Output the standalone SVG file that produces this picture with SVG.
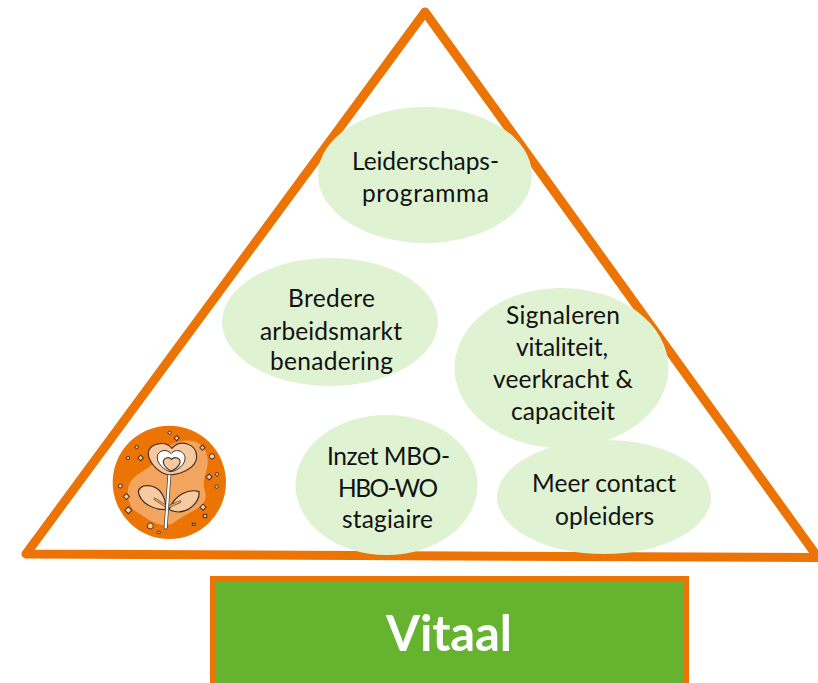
<svg xmlns="http://www.w3.org/2000/svg" width="818" height="683" viewBox="0 0 818 683">
<style>
.tx{font-family:Lato,"Liberation Sans",sans-serif;font-size:24.500px;fill:#111;text-anchor:middle}
.el{fill:#dff3d3}
.d{fill:#f6c9a0;stroke:#4a3020;stroke-width:3.500}
.p{fill:#f8caa0;stroke:#3a2a20;stroke-width:3.500}
</style>
<rect width="818" height="683" fill="#fff"/>
<g id="connectors"></g>
<g id="triangle"><path d="M425 12 L26 554 L818 557.500 Z" fill="#fff" stroke="#ec7405" stroke-width="9" stroke-linejoin="round"/></g>
<g id="node-leiderschap"><ellipse class="el" cx="425" cy="175" rx="107" ry="68"/><text class="tx" x="425.500" y="170" textLength="147">Leiderschaps-</text><text class="tx" x="425.500" y="202" textLength="127">programma</text></g>
<g id="node-bredere"><ellipse class="el" cx="330" cy="322" rx="108" ry="64"/><text class="tx" x="331.500" y="307" textLength="87">Bredere</text><text class="tx" x="331" y="340" textLength="142">arbeidsmarkt</text><text class="tx" x="331.500" y="370" textLength="123">benadering</text></g>
<g id="node-signaleren"><ellipse class="el" cx="561.500" cy="368" rx="107" ry="80"/><text class="tx" x="563" y="324" textLength="114">Signaleren</text><text class="tx" x="562" y="356" textLength="92">vitaliteit,</text><text class="tx" x="563" y="388" textLength="140">veerkracht &amp;</text><text class="tx" x="563" y="420" textLength="104">capaciteit</text></g>
<g id="node-inzet"><ellipse class="el" cx="386.500" cy="485" rx="91" ry="70"/><text class="tx" x="388.500" y="465" textLength="123">Inzet MBO-</text><text class="tx" x="388" y="497" textLength="100">HBO-WO</text><text class="tx" x="387.500" y="528" textLength="91">stagiaire</text></g>
<g id="node-meer"><ellipse class="el" cx="604" cy="497" rx="107" ry="57"/><text class="tx" x="604" y="492" textLength="144">Meer contact</text><text class="tx" x="604.500" y="525" textLength="99">opleiders</text></g>
<g id="node-vitaal"><rect x="212.500" y="578.500" width="474" height="110" fill="#65b32e" stroke="#ec7405" stroke-width="5"/><text x="449" y="651" text-anchor="middle" font-family="Lato,'Liberation Sans',sans-serif" font-size="49" font-weight="700" fill="#fff" textLength="126">Vitaal</text></g>
<g id="node-flower" transform="translate(100 415) scale(.3333)">
<circle cx="208" cy="202" r="170" fill="#ec7405"/>
<path d="M85 215 C100 170 150 170 170 130 C200 75 290 55 315 105 C340 155 300 180 315 230 C330 280 260 290 220 325 C170 345 130 300 100 285 C85 265 80 240 85 215Z" fill="#f3a45f"/>
<path class="d" d="M216 100 C240 72 290 85 290 125 C290 155 250 178 208 180 C175 175 143 140 145 112 C150 85 195 75 216 100Z"/>
<path d="M213 116 C228 97 258 110 255 133 C252 155 225 170 210 170 C192 165 170 145 172 125 C175 105 200 100 213 116Z" fill="#fff" stroke="#333" stroke-width="3"/>
<path class="d" d="M214 133 C225 122 242 130 240 143 C237 157 220 166 214 168 C205 165 190 153 190 142 C190 128 207 124 214 133Z"/>
<path class="p" d="M196 284 C160 284 120 265 115 230 C120 205 165 205 185 235 C195 250 198 268 196 284Z"/>
<path class="p" d="M208 282 C225 240 265 220 297 230 C300 260 270 290 235 291 C222 290 212 288 208 282Z"/>
<path d="M165 252 L195 272 M240 260 L208 274" stroke="#6b4a30" stroke-width="8" stroke-linecap="round"/>
<path d="M165 252 L195 272 M240 260 L208 274" stroke="#f3a45f" stroke-width="4" stroke-linecap="round"/>
<path d="M208 183 L197 338" stroke="#333" stroke-width="11" stroke-linecap="round"/>
<path d="M208 183 L197 338" stroke="#fff" stroke-width="7" stroke-linecap="round"/>
<g fill="#f8caa0" stroke="#4a3020" stroke-width="3">
<circle cx="209" cy="53" r="5"/><rect x="224" y="64" width="11" height="11" transform="rotate(45 230 70)"/><circle cx="110" cy="96" r="5"/><circle cx="84" cy="129" r="5"/><rect x="116" y="123" width="12" height="12" transform="rotate(45 122 129)"/><rect x="302" y="93" width="11" height="11" transform="rotate(45 308 98)"/><circle cx="336" cy="124" r="8"/><rect x="321" y="180" width="13" height="13" transform="rotate(45 328 186)"/><circle cx="351" cy="178" r="5"/><circle cx="350" cy="215" r="5"/><circle cx="61" cy="213" r="6"/><rect x="73" y="238" width="13" height="13" transform="rotate(45 79 244)"/><rect x="78" y="278" width="15" height="15" transform="rotate(45 85 285)"/><rect x="303" y="270" width="13" height="13" transform="rotate(45 309 276)"/><rect x="310" y="298" width="10" height="10"/><rect x="277" y="325" width="8" height="6"/><circle cx="151" cy="333" r="9"/><ellipse cx="177" cy="352" rx="5" ry="3.500"/>
</g>
</g>
</svg>
